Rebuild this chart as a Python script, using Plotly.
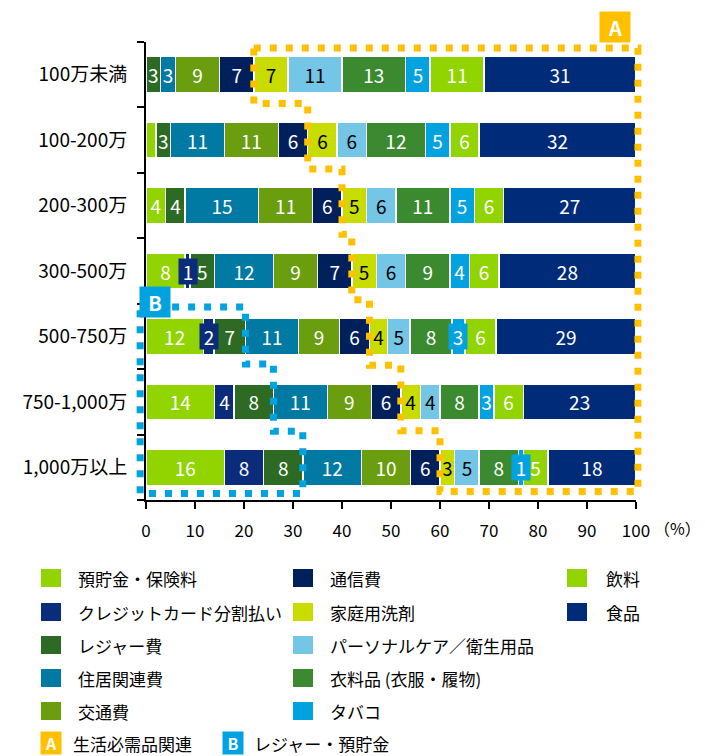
import plotly.graph_objects as go

# ---------------- data ----------------
categories = ["100万未満", "100-200万", "200-300万", "300-500万", "500-750万", "750-1,000万", "1,000万以上"]

series_names = ["預貯金・保険料", "クレジットカード分割払い", "レジャー費", "住居関連費", "交通費", "通信費",
                "家庭用洗剤", "パーソナルケア／衛生用品", "衣料品（衣服・履物）", "タバコ", "飲料", "食品"]

savings = [0, 2, 4, 8, 11.7, 14, 16]
savings_lbl = ["", "", "4", "8", "12", "14", "16"]
credit = [0, 0, 0, 1, 2.2, 4, 8]
credit_lbl = ["", "", "", "1", "2", "4", "8"]
leisure = [3, 3, 4, 5, 6.4, 8, 8]
leisure_lbl = ["3", "3", "4", "5", "7", "8", "8"]
housing = [3, 11, 15, 12, 10.8, 11, 12]
housing_lbl = ["3", "11", "15", "12", "11", "11", "12"]
transport = [9, 11, 11, 9, 8.4, 9, 10]
transport_lbl = ["9", "11", "11", "9", "9", "9", "10"]
telecom = [7, 6, 6, 7, 6.1, 6, 6]
telecom_lbl = ["7", "6", "6", "7", "6", "6", "6"]
detergent = [7, 6, 5, 5, 3.7, 4, 3]
detergent_lbl = ["7", "6", "5", "5", "4", "4", "3"]
personal = [11, 6, 6, 6, 4.6, 4, 5]
personal_lbl = ["11", "6", "6", "6", "5", "4", "5"]
clothing = [13, 12, 11, 9, 8.5, 8, 8]
clothing_lbl = ["13", "12", "11", "9", "8", "8", "8"]
tobacco = [5, 5, 5, 4, 2.7, 3, 1]
tobacco_lbl = ["5", "5", "5", "4", "3", "3", "1"]
beverage = [11, 6, 6, 6, 6.3, 6, 5]
beverage_lbl = ["11", "6", "6", "6", "6", "6", "5"]
food = [31, 32, 27, 28, 28.6, 23, 18]
food_lbl = ["31", "32", "27", "28", "29", "23", "18"]

x_ticks = [0, 10, 20, 30, 40, 50, 60, 70, 80, 90, 100]

# ---------------- style ----------------
FONT = "Noto Sans CJK JP, Noto Sans, sans-serif"
colors = ["#92D400", "#0B2C7A", "#2D6A24", "#0079A3", "#6A9E0F", "#00205B",
          "#C9DC00", "#73C6E6", "#3B8A2F", "#00A3E0", "#92D400", "#002B78"]
text_colors = ["white", "white", "white", "white", "white", "white",
               "black", "black", "white", "white", "white", "white"]
# labels drawn in a coloured box (series index, row index)
boxed = [(1, 3), (1, 4), (9, 4), (9, 6)]

values = [savings, credit, leisure, housing, transport, telecom,
          detergent, personal, clothing, tobacco, beverage, food]
labels = [savings_lbl, credit_lbl, leisure_lbl, housing_lbl, transport_lbl, telecom_lbl,
          detergent_lbl, personal_lbl, clothing_lbl, tobacco_lbl, beverage_lbl, food_lbl]

rows = list(range(len(categories)))

fig = go.Figure()
for s, (name, vals, lbls) in enumerate(zip(series_names, values, labels)):
    txt = [("" if (s, r) in boxed else lbls[r]) for r in rows]
    fig.add_trace(go.Bar(
        name=name, y=rows, x=vals, orientation="h",
        marker=dict(color=colors[s], line=dict(color="white", width=1.5)),
        text=txt, textposition="inside", insidetextanchor="middle", textangle=0,
        insidetextfont=dict(color=text_colors[s], size=19, family=FONT),
        hoverinfo="skip", showlegend=False,
    ))

def cum(r, n):
    return sum(values[k][r] for k in range(n))

annotations = []
# boxed labels
for s, r in boxed:
    xc = cum(r, s) + values[s][r] / 2
    annotations.append(dict(x=xc, y=r, xref="x", yref="y", text=labels[s][r], showarrow=False,
                            font=dict(color="white", size=19, family=FONT),
                            bgcolor=colors[s], width=18, height=25, borderpad=0))

# dotted outlines (x in paper = value/100 because x range is 0..100 on full domain)
yb = [cum(r, 6) / 100 for r in rows]
yellow_pts = [(yb[0], -0.41), (1.004, -0.41), (1.004, 6.37), (yb[6], 6.37)]
for r in range(6, 0, -1):
    yellow_pts += [(yb[r], r - 0.56), (yb[r - 1], r - 0.56)]
yellow_pts += [(yb[0], -0.41)]
bb = [cum(r, 3) / 100 for r in rows]
blue_pts = [(-0.012, 3.55), (bb[4], 3.55), (bb[4], 4.42), (bb[5], 4.42), (bb[5], 5.45),
            (bb[6], 5.45), (bb[6], 6.4), (-0.012, 6.4), (-0.012, 3.55)]

def path(pts):
    return "M " + " L ".join(f"{x},{y}" for x, y in pts)

shapes = [
    dict(type="path", xref="paper", yref="y", path=path(yellow_pts),
         line=dict(color="#FFC000", width=7, dash="7px,9px"), layer="above"),
    dict(type="path", xref="paper", yref="y", path=path(blue_pts),
         line=dict(color="#00A3E0", width=7, dash="7px,9px"), layer="above"),
]

# ---------------- manual legend (pixel helpers) ----------------
L, R, T, B = 146, 636, 42, 500
def px(x):
    return (x - L) / (R - L)
def py(y):
    return (B - y) / (B - T)

col_sq = [41, 293, 567]
col_tx = [76, 328, 604]
row_y = [578, 612, 645, 678, 711]
legend_cols = [[0, 1, 2, 3, 4], [5, 6, 7, 8, 9], [10, 11]]
for c, idxs in enumerate(legend_cols):
    for k, s in enumerate(idxs):
        yc = row_y[k]
        shapes.append(dict(type="rect", xref="paper", yref="paper",
                           x0=px(col_sq[c]), x1=px(col_sq[c] + 20), y0=py(yc + 9), y1=py(yc - 9),
                           fillcolor=colors[s], line=dict(width=0)))
        annotations.append(dict(x=px(col_tx[c]), y=py(yc), xref="paper", yref="paper",
                                text=series_names[s].replace("（衣服", " (衣服").replace("履物）", "履物)"),
                                showarrow=False, xanchor="left", yanchor="middle",
                                font=dict(size=17, color="black", family=FONT)))

def badge(letter, xc, yc, color, w, h, size):
    return dict(x=px(xc), y=py(yc), xref="paper", yref="paper", text=f"<b>{letter}</b>",
                showarrow=False, xanchor="center", yanchor="middle", bgcolor=color,
                width=w, height=h, borderpad=0,
                font=dict(size=size, color="white", family=FONT))

LAST = 743
annotations.append(badge("A", 51, LAST, "#FFC000", 20, 22, 16))
annotations.append(dict(x=px(72), y=py(LAST), xref="paper", yref="paper", text="生活必需品関連",
                        showarrow=False, xanchor="left", yanchor="middle", height=22, borderpad=0,
                        font=dict(size=17, color="black", family=FONT)))
annotations.append(badge("B", 233, LAST, "#00A3E0", 20, 22, 16))
annotations.append(dict(x=px(253), y=py(LAST), xref="paper", yref="paper", text="レジャー・預貯金",
                        showarrow=False, xanchor="left", yanchor="middle", height=22, borderpad=0,
                        font=dict(size=17, color="black", family=FONT)))
annotations.append(badge("A", 615, 27, "#FFC000", 30, 30, 20))
annotations.append(badge("B", 155, 302, "#00A3E0", 30, 30, 20))
annotations.append(dict(x=px(652), y=py(528), xref="paper", yref="paper", text="（%）",
                        showarrow=False, xanchor="left", yanchor="middle",
                        font=dict(size=16, color="black", family=FONT)))

fig.update_layout(
    width=705, height=756,
    margin=dict(l=L, r=705 - R, t=T, b=756 - B),
    barmode="stack", bargap=0.45,
    plot_bgcolor="white", paper_bgcolor="white",
    font=dict(family=FONT, color="black"),
    uniformtext=dict(minsize=19, mode="show"),
    shapes=shapes, annotations=annotations,
    xaxis=dict(range=[0, 100], tickvals=x_ticks, ticks="outside", ticklen=7, tickwidth=1.5,
               tickcolor="black", showline=True, linecolor="black", linewidth=2,
               showgrid=False, zeroline=False, ticklabelstandoff=8,
               tickfont=dict(size=17, family=FONT, color="black"), fixedrange=True),
    yaxis=dict(range=[6.5, -0.5], tickvals=rows, ticktext=categories, ticks="",
               minor=dict(tickvals=[r - 0.5 for r in rows] + [6.5], ticks="outside",
                          ticklen=7, tickwidth=1.5, tickcolor="black"),
               showline=True, linecolor="black", linewidth=2, showgrid=False, zeroline=False,
               ticklabelstandoff=13, tickfont=dict(size=19, family=FONT, color="black"),
               fixedrange=True),
)

fig.write_html("out.html")
